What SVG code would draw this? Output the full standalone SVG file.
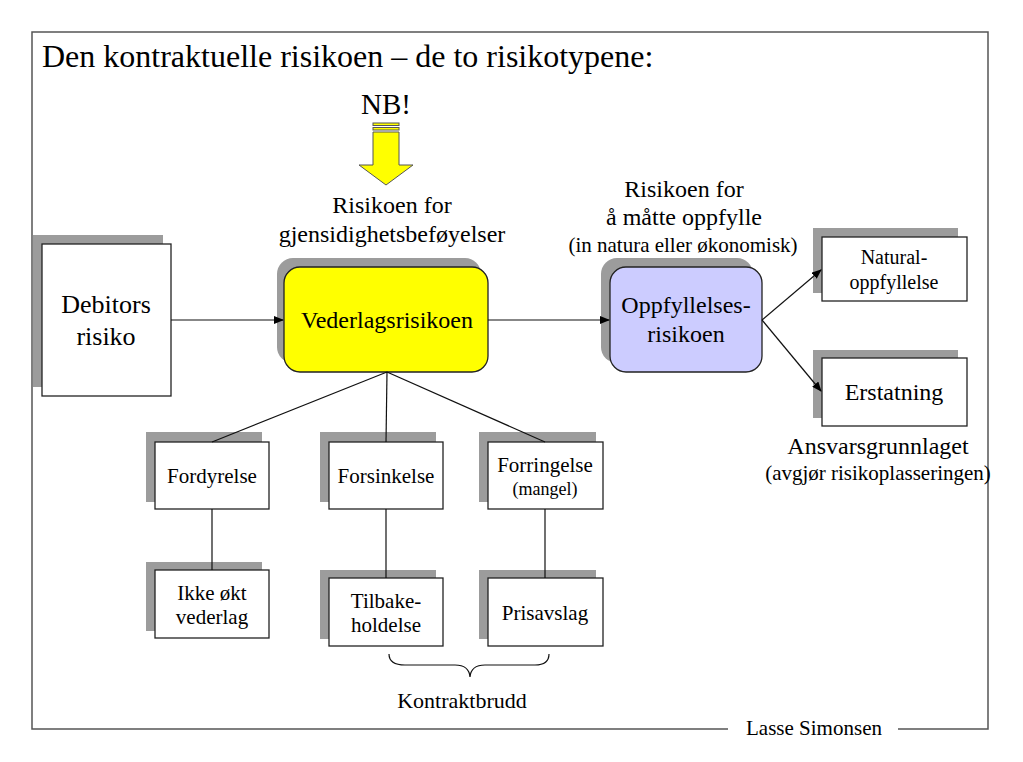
<svg xmlns="http://www.w3.org/2000/svg" width="1023" height="762" viewBox="0 0 1023 762">
<defs>
<style>
text{font-family:"Liberation Serif","Times New Roman",serif;fill:#000;text-anchor:middle}
.sh{fill:#9c9c9c}
.box{fill:#fff;stroke:#222;stroke-width:1.3}
.ln{stroke:#111;stroke-width:1.2;fill:none}
.frame{stroke:#555;stroke-width:1.5;fill:none}
</style>
<marker id="ah" markerWidth="10" markerHeight="8" refX="9" refY="4" orient="auto" markerUnits="userSpaceOnUse">
<path d="M0,0 L10,4 L0,8 z" fill="#000"/>
</marker>
</defs>
<rect width="1023" height="762" fill="#fff"/>
<path class="frame" d="M728,729 L32,729 L32,32 L988,32 L988,729 L898,729"/>
<text x="42" y="67" font-size="32" style="text-anchor:start">Den kontraktuelle risikoen – de to risikotypene:</text>
<text x="814" y="735" font-size="21">Lasse Simonsen</text>

<g id="nb">
<text x="386" y="114" font-size="29">NB!</text>
<g fill="#ffff00" stroke="#555" stroke-width="1">
<rect x="373" y="123" width="26" height="2.5"/>
<rect x="373" y="127.5" width="26" height="2.5"/>
<path d="M373,132 L399,132 L399,165 L413,165 L386,185 L359,165 L373,165 Z"/>
</g>
</g>

<g id="debitors">
<rect class="sh" x="33" y="235" width="130" height="152"/>
<rect class="box" x="42" y="244" width="129" height="152"/>
<text x="106" y="313" font-size="26">Debitors</text>
<text x="106" y="345" font-size="26">risiko</text>
</g>

<g id="vederlag">
<text x="392" y="213" font-size="24">Risikoen for</text>
<text x="392" y="242" font-size="24">gjensidighetsbeføyelser</text>
<rect x="277" y="258" width="204" height="105" rx="16" fill="#9c9c9c"/>
<rect x="284" y="267" width="204" height="105" rx="16" fill="#ffff00" stroke="#222" stroke-width="1.3"/>
<text x="387" y="328" font-size="24">Vederlagsrisikoen</text>
</g>

<g id="oppfyllelse">
<text x="684" y="197" font-size="24">Risikoen for</text>
<text x="684" y="225" font-size="24">å måtte oppfylle</text>
<text x="683" y="252" font-size="21">(in natura eller økonomisk)</text>
<rect x="601" y="258" width="152" height="105" rx="16" fill="#9c9c9c"/>
<rect x="610" y="267" width="152" height="105" rx="16" fill="#ccccff" stroke="#222" stroke-width="1.3"/>
<text x="686" y="313" font-size="24">Oppfyllelses-</text>
<text x="686" y="342" font-size="24">risikoen</text>
</g>

<g id="natural">
<rect class="sh" x="813" y="228" width="145" height="65"/>
<rect class="box" x="822" y="237" width="145" height="64"/>
<text x="894" y="264" font-size="20">Natural-</text>
<text x="894" y="289" font-size="20">oppfyllelse</text>
</g>

<g id="erstatning">
<rect class="sh" x="813" y="350" width="145" height="68"/>
<rect class="box" x="822" y="358" width="145" height="68"/>
<text x="894" y="400" font-size="24">Erstatning</text>
<text x="878" y="454" font-size="24">Ansvarsgrunnlaget</text>
<text x="878" y="480" font-size="21">(avgjør risikoplasseringen)</text>
</g>

<g id="fordyrelse">
<rect class="sh" x="146" y="432" width="116" height="70"/>
<rect class="box" x="155" y="442" width="114" height="67"/>
<text x="212" y="483" font-size="21">Fordyrelse</text>
</g>

<g id="forsinkelse">
<rect class="sh" x="320" y="432" width="116" height="70"/>
<rect class="box" x="329" y="442" width="114" height="67"/>
<text x="386" y="483" font-size="21">Forsinkelse</text>
</g>

<g id="forringelse">
<rect class="sh" x="479" y="432" width="117" height="70"/>
<rect class="box" x="488" y="442" width="115" height="67"/>
<text x="545" y="472" font-size="21">Forringelse</text>
<text x="545" y="495" font-size="18">(mangel)</text>
</g>

<g id="ikke">
<rect class="sh" x="146" y="562" width="116" height="69"/>
<rect class="box" x="155" y="570" width="114" height="68"/>
<text x="212" y="600" font-size="21">Ikke økt</text>
<text x="212" y="624" font-size="21">vederlag</text>
</g>

<g id="tilbake">
<rect class="sh" x="320" y="570" width="116" height="69"/>
<rect class="box" x="329" y="578" width="114" height="68"/>
<text x="386" y="608" font-size="21">Tilbake-</text>
<text x="386" y="632" font-size="21">holdelse</text>
</g>

<g id="prisavslag">
<rect class="sh" x="479" y="570" width="117" height="69"/>
<rect class="box" x="488" y="578" width="115" height="68"/>
<text x="545" y="620" font-size="21">Prisavslag</text>
</g>

<g id="kontraktbrudd">
<path class="ln" d="M389,654 Q389,665 405,665 L455,665 Q469,665 470,677 Q471,665 485,665 L535,665 Q549,665 549,654"/>
<text x="462" y="708" font-size="22">Kontraktbrudd</text>
</g>

<g id="connectors">
<line class="ln" x1="171" y1="320" x2="283" y2="320" marker-end="url(#ah)"/>
<line class="ln" x1="488" y1="320" x2="609" y2="320" marker-end="url(#ah)"/>
<line class="ln" x1="762" y1="320" x2="821" y2="270" marker-end="url(#ah)"/>
<line class="ln" x1="762" y1="320" x2="821" y2="391" marker-end="url(#ah)"/>
<line class="ln" x1="387" y1="372" x2="212" y2="442"/>
<line class="ln" x1="387" y1="372" x2="386" y2="442"/>
<line class="ln" x1="387" y1="372" x2="545" y2="442"/>
<line class="ln" x1="212" y1="509" x2="212" y2="570"/>
<line class="ln" x1="386" y1="509" x2="386" y2="578"/>
<line class="ln" x1="545" y1="509" x2="545" y2="578"/>
</g>
</svg>
